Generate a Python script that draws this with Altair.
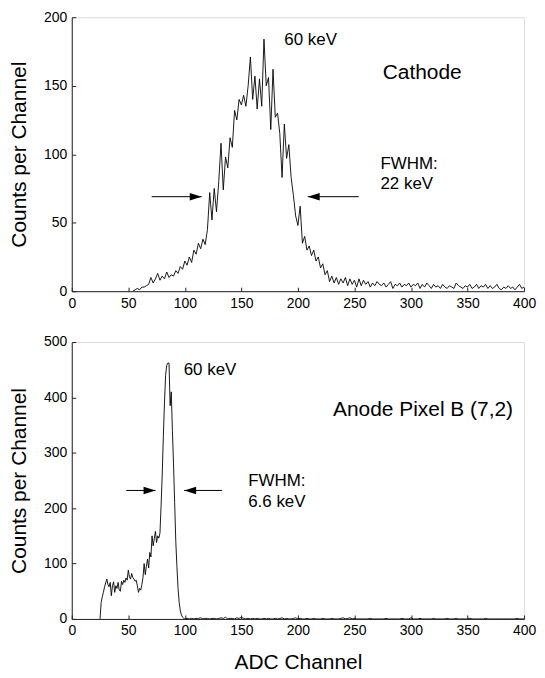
import altair as alt
import pandas as pd

# ---------------- data ----------------
X_TICKS = [0, 50, 100, 150, 200, 250, 300, 350, 400]
TOP_Y_TICKS = [0, 50, 100, 150, 200]
BOT_Y_TICKS = [0, 100, 200, 300, 400, 500]

# Cathode spectrum, channels 54, 56, ... 400
top_start = 54
top_counts = [
    0, 1, 2, 1, 3, 3, 4, 5, 10, 6,
    9, 13, 8, 11, 9, 14, 10, 12, 11, 15,
    13, 18, 16, 22, 19, 25, 21, 30, 27, 35,
    31, 38, 34, 45, 72, 52, 75, 58, 80, 108,
    74, 98, 90, 112, 105, 132, 125, 140, 136, 143,
    135, 150, 171, 140, 157, 133, 155, 135, 184, 150,
    156, 118, 162, 127, 130, 115, 83, 122, 97, 107,
    83, 70, 55, 48, 62, 35, 40, 30, 33, 26,
    30, 22, 25, 17, 20, 12, 15, 7, 11, 6,
    10, 5, 9, 6, 10, 4, 9, 5, 8, 3,
    9, 4, 8, 5, 7, 3, 6, 4, 7, 5,
    4, 6, 3, 5, 7, 2, 5, 4, 6, 3,
    5, 4, 6, 3, 5, 4, 6, 2, 5, 3,
    6, 4, 2, 5, 3, 4, 2, 5, 3, 2,
    4, 3, 2, 6, 4, 3, 2, 4, 3, 5,
    2, 3, 5, 2, 4, 3, 5, 2, 4, 2,
    3, 5, 2, 1, 3, 2, 4, 2, 3, 1,
    3, 5, 2, 3,
]

# Anode pixel spectrum, channels 25 ... 100 (step 1)
bot_peak_start = 25
bot_peak_counts = [
    0, 30, 40, 48, 58, 65, 72, 62, 58, 66,
    42, 60, 67, 48, 60, 55, 66, 52, 50, 68,
    62, 70, 66, 74, 70, 88, 76, 72, 82, 75,
    72, 68, 70, 60, 48, 55, 52, 62, 75, 100,
    80, 95, 108, 92, 120, 112, 150, 132, 145, 158,
    138, 150, 146, 155, 205, 260, 330, 390, 440, 458,
    462, 462, 385, 410, 340, 280, 210, 140, 95, 55,
    30, 15, 7, 3, 1, 0,
]
# Anode pixel tail, channels 102, 104, ... 400
bot_tail_start = 102
bot_tail_counts = [
    1, 0, 1, 0, 1, 1, 2, 0, 1, 1,
    0, 1, 1, 0, 1, 2, 1, 3, 0, 1,
    1, 0, 2, 1, 3, 1, 0, 1, 0, 1,
    0, 1, 0, 0, 1, 0, 1, 0, 0, 1,
    0, 1, 2, 0, 1, 0, 0, 1, 2, 0,
    1, 0, 0, 1, 0, 0, 1, 0, 0, 0,
    1, 0, 0, 0, 1, 0, 0, 0, 1, 2,
    0, 1, 2, 0, 1, 0, 0, 0, 0, 0,
    0, 1, 0, 0, 0, 0, 0, 0, 1, 0,
    0, 0, 0, 0, 0, 1, 0, 0, 0, 2,
    0, 0, 0, 1, 0, 0, 0, 0, 0, 1,
    0, 0, 0, 0, 0, 1, 0, 0, 0, 1,
    0, 0, 0, 0, 0, 1, 0, 0, 0, 0,
    0, 0, 1, 0, 0, 0, 0, 0, 0, 0,
    0, 0, 0, 0, 0, 0, 1, 0, 0, 0,
]

# annotations: (channel, count, text, fontsize)
top_labels = [(188, 183, "60 keV", 17), (275, 159, "Cathode", 21),
              (273, 93, "FWHM:", 17), (273, 78, "22 keV", 17)]
bot_labels = [(99, 450, "60 keV", 17), (231, 377, "Anode Pixel B (7,2)", 21),
              (156, 249, "FWHM:", 17), (156, 211, "6.6 keV", 17)]
# arrows: (tail channel, tip channel, count)
top_arrows = [(70.7, 114.9, 69), (253.8, 208.7, 69)]
bot_arrows = [(48.2, 74.1, 232), (132.8, 99.4, 232)]

HEAD_RIGHT = "M-1,-0.62L1,0L-1,0.62Z"
HEAD_LEFT = "M1,-0.62L-1,0L1,0.62Z"

FONT = "Liberation Sans"
W = 454


def build_panel(ch, cnt, labels, arrows, ymax, yticks, x_title, height):
    line_df = pd.DataFrame({"ch": ch, "n": cnt})
    lab_df = pd.DataFrame(labels, columns=["ch", "n", "label", "fs"])
    arr_df = pd.DataFrame(arrows, columns=["a", "b", "n"])
    arr_df["shape"] = [HEAD_RIGHT if b > a else HEAD_LEFT for a, b in zip(arr_df["a"], arr_df["b"])]
    # arrow head centre: 6 px back from the tip in channel units
    px_per_ch = W / 400.0
    arr_df["hc"] = [b - 6.0 / px_per_ch if b > a else b + 6.0 / px_per_ch
                    for a, b in zip(arr_df["a"], arr_df["b"])]

    xs = alt.Scale(domain=[0, 400], nice=False, zero=False)
    ys = alt.Scale(domain=[0, ymax], nice=False)

    x_main = alt.Axis(values=X_TICKS, ticks=False, grid=False, labelPadding=5,
                      labelFontSize=14, labelFont=FONT, labelColor="black",
                      domainColor="#222", titleFont=FONT, titleFontSize=21,
                      titleFontWeight="normal", titleColor="black", titlePadding=14,
                      orient="bottom", labelFlush=False)
    y_main = alt.Axis(values=yticks, ticks=False, grid=False, labelPadding=5,
                      labelFontSize=14, labelFont=FONT, labelColor="black",
                      domainColor="#222", titleFont=FONT, titleFontSize=21,
                      titleFontWeight="normal", titleColor="black", titlePadding=14,
                      orient="left", labelFlush=False)
    x_tick_axis = alt.Axis(values=X_TICKS, labels=False, domain=False, grid=False,
                           ticks=True, tickSize=4, tickColor="#222", offset=-4,
                           orient="bottom", title=None)
    y_tick_axis = alt.Axis(values=yticks, labels=False, domain=False, grid=False,
                           ticks=True, tickSize=4, tickColor="#222", offset=-4,
                           orient="left", title=None)

    if x_title:
        xenc = alt.X("ch:Q", scale=xs, axis=x_main, title=x_title)
    else:
        xenc = alt.X("ch:Q", scale=xs, axis=x_main, title=None)

    line = alt.Chart(line_df).mark_line(color="black", strokeWidth=0.9, clip=True).encode(
        x=xenc,
        y=alt.Y("n:Q", scale=ys, axis=y_main, title="Counts per Channel"),
    )
    text = alt.Chart(lab_df).mark_text(align="left", baseline="middle", font=FONT,
                                       color="black").encode(
        x=alt.X("ch:Q", scale=xs, axis=x_tick_axis),
        y=alt.Y("n:Q", scale=ys, axis=y_tick_axis),
        text="label:N",
        size=alt.Size("fs:Q", scale=None),
    )
    rules = alt.Chart(arr_df).mark_rule(color="black", strokeWidth=1).encode(
        x=alt.X("a:Q", scale=xs, axis=None),
        x2="b:Q",
        y=alt.Y("n:Q", scale=ys, axis=None),
    )
    heads = alt.Chart(arr_df).mark_point(filled=True, color="black", opacity=1,
                                         size=144, strokeWidth=0).encode(
        x=alt.X("hc:Q", scale=xs, axis=None),
        y=alt.Y("n:Q", scale=ys, axis=None),
        shape=alt.Shape("shape:N", scale=None),
    )
    return alt.layer(line, text, rules, heads).resolve_axis(
        x="independent", y="independent"
    ).properties(width=W, height=height)


top_ch = [top_start + 2 * i for i in range(len(top_counts))]
bot_ch = [bot_peak_start + i for i in range(len(bot_peak_counts))] + \
         [bot_tail_start + 2 * i for i in range(len(bot_tail_counts))]
bot_cnt = bot_peak_counts + bot_tail_counts

top = build_panel(top_ch, top_counts, top_labels, top_arrows, 200, TOP_Y_TICKS, None, 275)
bot = build_panel(bot_ch, bot_cnt, bot_labels, bot_arrows, 500, BOT_Y_TICKS, "ADC Channel", 278)

chart = alt.vconcat(top, bot, spacing=23).properties(
    padding={"left": 0, "top": 0, "right": 0, "bottom": 0}
).configure_view(stroke=None).configure(background="white")

chart.save("out.html", embed_options={"renderer": "svg", "actions": False})
